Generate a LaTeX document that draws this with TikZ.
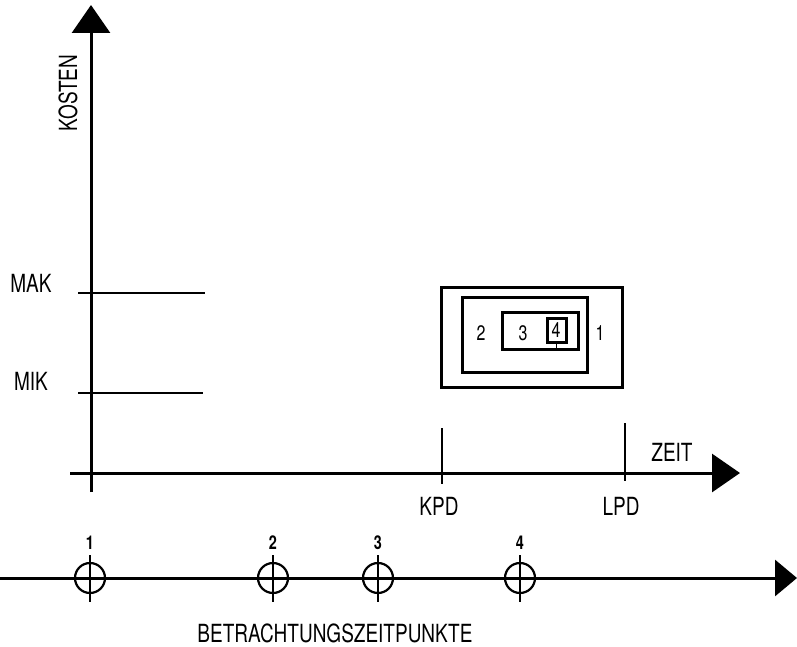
\documentclass[tikz,border=0pt]{standalone}
\usepackage{fontspec}
\setmainfont{TeX Gyre Heros}[FakeStretch=0.76]
\usetikzlibrary{arrows.meta, positioning}

\begin{document}
\begin{tikzpicture}[
  x=1pt,
  y=-1pt,
  font=\fontsize{25}{28}\selectfont,
  axis/.style={line width=3pt, -{Triangle[length=28pt, width=38pt]}},
  timeaxis/.style={line width=3pt, -{Triangle[length=22pt, width=36pt]}},
  level/.style={line width=1.6pt},
  tick/.style={line width=1.6pt},
  frame/.style={draw, line width=3pt, inner sep=0pt},
  point/.style={draw, circle, line width=2.2pt, minimum size=30pt, inner sep=0pt},
  lab/.style={inner sep=1pt},
  num/.style={inner sep=1pt, font=\fontsize{19}{21}\selectfont\bfseries}
]

  \useasboundingbox (0,0) rectangle (797,647);

  % Cost and time axes.
  \coordinate (ybot)   at (91,492);
  \coordinate (ytop)   at (91,5);
  \coordinate (xleft)  at (70,473);
  \coordinate (xright) at (740,473);
  \draw[axis] (ybot)  -- (ytop);
  \draw[axis] (xleft) -- (xright);
  \node[lab, rotate=90] at (68,93)  (kosten) {KOSTEN};
  \node[lab] at (672,452)           (zeit)   {ZEIT};

  % Maximum and minimum cost levels.
  \coordinate (makL) at (78,293);
  \coordinate (makR) at (205,293);
  \coordinate (mikL) at (78,393);
  \coordinate (mikR) at (203,393);
  \draw[level] (makL) -- (makR);
  \draw[level] (mikL) -- (mikR);
  \node[lab] at (31,283) (mak) {MAK};
  \node[lab] at (31,381) (mik) {MIK};

  % Planned dates on the time axis.
  \coordinate (kpdtop) at (442,428);
  \coordinate (kpdbot) at (442,484);
  \coordinate (lpdtop) at (625,423);
  \coordinate (lpdbot) at (625,481);
  \draw[tick] (kpdtop) -- (kpdbot);
  \draw[tick] (lpdtop) -- (lpdbot);
  \node[lab] at (439,506) (kpd) {KPD};
  \node[lab] at (621,506) (lpd) {LPD};

  % Nested estimate ranges, one per point in time.
  \node[frame, minimum width=181pt, minimum height=100pt] at (531.5,337)  (r1) {};
  \node[frame, minimum width=125pt, minimum height=75pt]  at (524.5,334.5) (r2) {};
  \node[frame, minimum width=76pt,  minimum height=37pt]  at (540,330.5)  (r3) {};
  \node[frame, minimum width=19pt,  minimum height=24pt]  at (556.5,330)  (r4) {};
  \draw[line width=1.6pt] (r4.south) -- (r4.south |- r3.south);
  \node[lab, font=\fontsize{21}{24}\selectfont] at (600,333) (l1) {1};
  \node[lab, font=\fontsize{21}{24}\selectfont] at (481,333) (l2) {2};
  \node[lab, font=\fontsize{21}{24}\selectfont] at (523,333) (l3) {3};
  \node[lab, font=\fontsize{21}{24}\selectfont] at (556,330) (l4) {4};

  % Points in time of the review.
  \coordinate (tleft)  at (0,578);
  \coordinate (tright) at (797,578);
  \draw[timeaxis] (tleft) -- (tright);
  \foreach \i/\x in {1/90, 2/273, 3/378, 4/520} {
    \node[point] at (\x,578) (p\i) {};
    \draw[line width=1.8pt] (p\i.center) ++(0,-23) -- ++(0,47);
    \node[num] at (\x,543) (n\i) {\i};
  }
  \node[lab, anchor=base] at (335,642) (betr) {BETRACHTUNGSZEITPUNKTE};

\end{tikzpicture}
\end{document}
